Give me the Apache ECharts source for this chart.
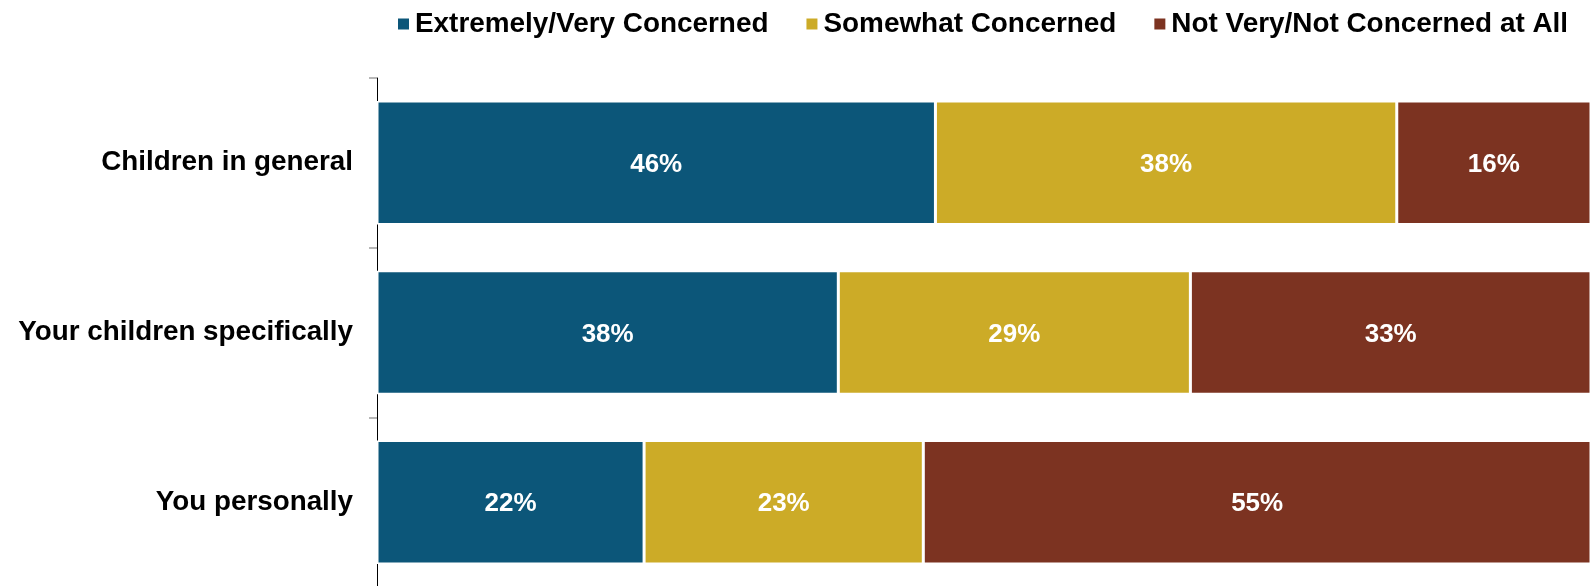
<!DOCTYPE html>
<html>
<head>
<meta charset="utf-8">
<script src="https://cdn.jsdelivr.net/npm/echarts@6/dist/echarts.min.js"></script>
<style>
html,body{margin:0;padding:0;background:#fff;}
#chart{width:1595px;height:586px;}
</style>
</head>
<body>
<div id="chart"></div>
<script>
var categories = ['Children in general', 'Your children specifically', 'You personally'];
var seriesNames = ['Extremely/Very Concerned', 'Somewhat Concerned', 'Not Very/Not Concerned at All'];
var extremelyVery = [46, 38, 22];
var somewhat = [38, 29, 23];
var notVery = [16, 33, 55];
var colors = ['#0C5679', '#CCAB27', '#7C3321'];

var FONT = '"Liberation Sans", Arial, sans-serif';
var chart = echarts.init(document.getElementById('chart'), null, {renderer: 'canvas'});

function mkSeries(name, data, color) {
  return {
    name: name,
    type: 'bar',
    stack: 'total',
    data: data,
    barCategoryGap: '27.2%',
    itemStyle: {color: color, borderColor: '#ffffff', borderWidth: 1.5},
    label: {
      show: true,
      position: 'inside',
      offset: [0, 2],
      formatter: '{c}%',
      color: '#ffffff',
      fontFamily: FONT,
      fontWeight: 'bold',
      fontSize: 26
    },
    emphasis: {disabled: true}
  };
}

chart.setOption({
  animation: false,
  backgroundColor: '#ffffff',
  color: colors,
  legend: {
    data: seriesNames,
    left: 391,
    top: 5,
    itemWidth: 13,
    itemHeight: 13,
    itemGap: 36,
    icon: 'rect',
    textStyle: {
      fontFamily: FONT,
      fontWeight: 'bold',
      fontSize: 27.9,
      lineHeight: 28,
      color: '#000000'
    }
  },
  grid: {left: 377, right: 4, top: 78, bottom: -1, containLabel: false, outerBoundsMode: 'none'},
  xAxis: {
    type: 'value',
    min: 0,
    max: 100,
    show: false
  },
  yAxis: {
    type: 'category',
    data: categories,
    inverse: true,
    axisLine: {show: true, lineStyle: {color: '#000000', width: 1}},
    axisTick: {show: true, length: 8, lineStyle: {color: '#a0a0a0', width: 1.5}},
    axisLabel: {
      margin: 24,
      fontFamily: FONT,
      fontWeight: 'bold',
      fontSize: 27.8,
      color: '#000000'
    },
    splitLine: {show: false}
  },
  series: [
    mkSeries(seriesNames[0], extremelyVery, colors[0]),
    mkSeries(seriesNames[1], somewhat, colors[1]),
    mkSeries(seriesNames[2], notVery, colors[2])
  ]
});
</script>
</body>
</html>
